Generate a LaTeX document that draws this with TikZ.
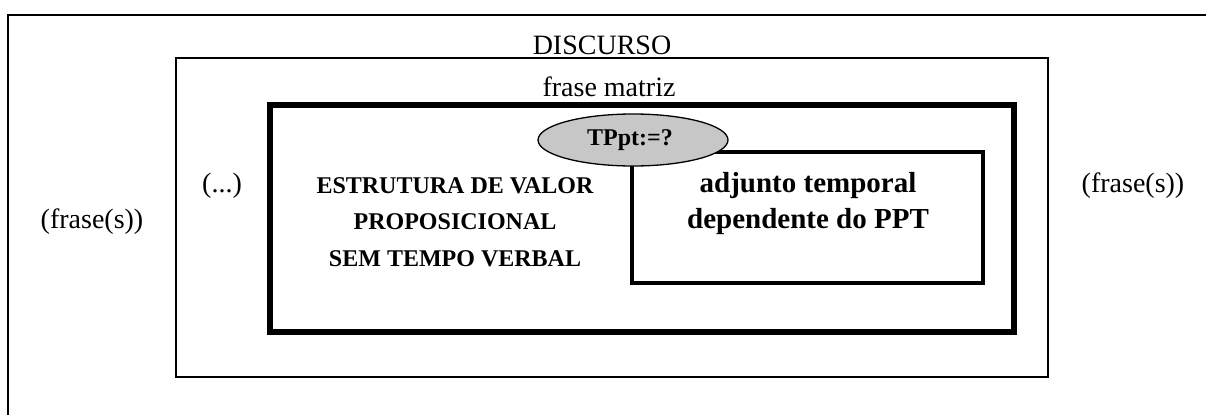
\documentclass[tikz,border=0pt]{standalone}
\usepackage{fontspec}
\setmainfont{Liberation Serif}
\usetikzlibrary{shapes.geometric}
\begin{document}
\begin{tikzpicture}[x=1pt,y=-1pt,
  thinbox/.style={draw=black,line width=1.3pt},
  thickbox/.style={draw=black,line width=6pt},
  midbox/.style={draw=black,line width=3.5pt},
  reg/.style={font=\fontsize{28}{30}\selectfont,inner sep=0pt},
  boldtxt/.style={font=\bfseries\fontsize{24}{26}\selectfont,inner sep=0pt},
  bigbold/.style={font=\bfseries\fontsize{29}{31}\selectfont,inner sep=0pt}]
\useasboundingbox (0,0) rectangle (1206,415);
% outer DISCURSO box (clipped at right and bottom)
\draw[thinbox] (8,415) -- (8,15) -- (1206,15);
% frase matriz box
\draw[thinbox] (176,58) rectangle (1048,377);
% thick box
\draw[thickbox] (270,105) rectangle (1014,332);
% inner adjunct box
\draw[midbox] (632,152) rectangle (983,283);
% ellipse
\node[ellipse,draw=black,line width=1.3pt,fill=black!22,minimum width=190pt,minimum height=52pt,inner sep=0pt] (tp) at (633,140) {};
\node[font=\bfseries\fontsize{24}{26}\selectfont,inner sep=0pt] (tpt) at (630,140) {TPpt:=?};
% texts
\node[reg] (disc) at (602,45) {DISCURSO};
\node[reg] (fm) at (609,87) {frase matriz};
\node[reg] (dots) at (222,186) {(...)};
\node[reg] (fl) at (92,222) {(frase(s))};
\node[reg] (fr) at (1133,186) {(frase(s))};
\node[boldtxt] (e1) at (455,186) {ESTRUTURA DE VALOR};
\node[boldtxt] (e2) at (455,222) {PROPOSICIONAL};
\node[boldtxt] (e3) at (455,259) {SEM TEMPO VERBAL};
\node[bigbold] (a1) at (808,186) {adjunto temporal};
\node[bigbold] (a2) at (808,222) {dependente do PPT};
\end{tikzpicture}
\end{document}
